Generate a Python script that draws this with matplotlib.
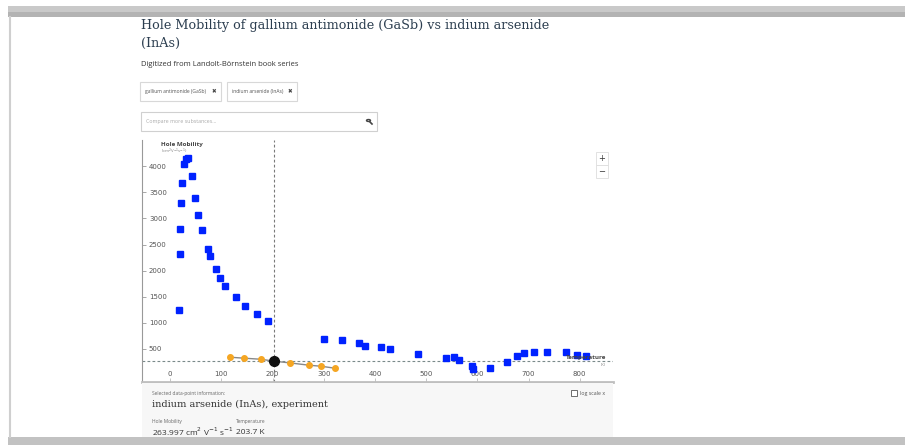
import matplotlib
matplotlib.use("Agg")
import matplotlib.pyplot as plt
from matplotlib.patches import Rectangle, Circle
from matplotlib.lines import Line2D

# GaSb hole mobility (cm^2 V^-1 s^-1) vs temperature (K)
gasb_temp = [17, 19.5, 20, 22, 24, 28, 30, 35, 42, 49, 55, 62, 74, 77, 89, 98, 108,
             128, 147, 169, 191, 300, 335, 369, 380, 411, 430, 484, 538, 555, 564,
             589, 592, 624, 658, 677, 692, 710, 736, 773, 795, 813]
gasb_mob = [1247, 2326, 2799, 3303, 3686, 4044, 4134, 4165, 3814, 3399, 3067, 2786,
            2410, 2288, 2033, 1854, 1713, 1496, 1330, 1171, 1042, 686, 667, 609, 563,
            544, 494, 404, 328, 347, 289, 180, 123, 136, 257, 366, 418, 437, 448, 437,
            385, 366]

# InAs hole mobility vs temperature
inas_temp = [117, 145, 177, 203.7, 234, 271, 295, 322]
inas_mob = [341, 322, 302, 263.997, 232, 188, 168, 130]

sel_temp = 203.7
sel_mob = 263.997

x_ticks = [0, 100, 200, 300, 400, 500, 600, 700, 800]
y_ticks = [500, 1000, 1500, 2000, 2500, 3000, 3500, 4000]

W, H = 905, 445
fig = plt.figure(figsize=(W / 100, H / 100), dpi=100)
fig.patch.set_facecolor("white")


def fx(x):
    return x / W


def fy(y):
    return 1 - y / H


def frect(x0, y0, x1, y1, **kw):
    fig.patches.append(Rectangle((fx(x0), fy(y1)), fx(x1) - fx(x0), fy(y0) - fy(y1),
                                 transform=fig.transFigure, **kw))


# page frame
frect(8, 6, 905, 12, facecolor="#c9c9c9", edgecolor="none")
frect(8, 12, 905, 17, facecolor="#b3b3b3", edgecolor="none")
frect(8, 437, 905, 445, facecolor="#c2c2c2", edgecolor="none")
fig.lines.append(Line2D([fx(9.5), fx(9.5)], [fy(17), fy(437)], transform=fig.transFigure,
                        color="#cfcfcf", lw=1.5))

# header
serif = ["DejaVu Serif"]
sans = ["Open Sans", "DejaVu Sans"]
fig.text(fx(141), fy(26), "Hole Mobility of gallium antimonide (GaSb) vs indium arsenide",
         family=serif, fontsize=9.2, color="#2c3e50", va="center")
fig.text(fx(141), fy(43), "(InAs)", family=serif, fontsize=9.2, color="#2c3e50", va="center")
fig.text(fx(141), fy(64), "Digitized from Landolt-Börnstein book series",
         family=sans, fontsize=5.5, color="#333333", va="center")

# substance tags
for x0, x1, label in [(140, 221, "gallium antimonide (GaSb)"), (227, 297, "indium arsenide (InAs)")]:
    frect(x0, 82, x1, 101, facecolor="white", edgecolor="#d8d8d8", lw=0.8)
    fig.text(fx(x0 + 5), fy(92), label, family=sans, fontsize=3.6, color="#555555", va="center")
    fig.text(fx(x1 - 9), fy(92), "✖", family=["DejaVu Sans"], fontsize=4, color="#444444",
             va="center")

# search box
frect(141, 112, 377, 131, facecolor="white", edgecolor="#d0d0d0", lw=0.8)
fig.text(fx(146), fy(121.5), "Compare more substances...", family=sans, fontsize=3.8,
         color="#aaaaaa", va="center")
fig.patches.append(Circle((fx(368.5), fy(120.5)), 2.0 / W, transform=fig.transFigure,
                          facecolor="none", edgecolor="#444444", lw=1))
fig.lines.append(Line2D([fx(370), fx(372)], [fy(122), fy(124)], transform=fig.transFigure,
                        color="#444444", lw=1.2))

# info panel
frect(142, 383, 613, 437, facecolor="#f7f7f7", edgecolor="none")
fig.text(fx(152), fy(393), "Selected data-point information:", family=sans, fontsize=3.5,
         color="#666666", va="center")
fig.text(fx(152), fy(404), "indium arsenide (InAs), experiment", family=serif, fontsize=7,
         color="#333333", va="center")
fig.text(fx(152), fy(421), "Hole Mobility", family=sans, fontsize=3.5, color="#666666", va="center")
fig.text(fx(236), fy(421), "Temperature", family=sans, fontsize=3.5, color="#666666", va="center")
fig.text(fx(152), fy(432), r"263.997 cm$^{2}$ V$^{-1}$ s$^{-1}$", family=sans, fontsize=6,
         color="#333333", va="center")
fig.text(fx(236), fy(432), "203.7 K", family=sans, fontsize=6, color="#333333", va="center")
frect(571, 390, 577, 396, facecolor="white", edgecolor="#555555", lw=0.6)
fig.text(fx(580), fy(393.5), "log scale x", family=sans, fontsize=3.8, color="#555555", va="center")

# chart
ax = fig.add_axes([fx(142), fy(382), fx(613) - fx(142), fy(140) - fy(382)])
ax.set_facecolor("white")
ax.set_xlim(-55, 865)
ax.set_ylim(-134, 4504)

ax.axhline(sel_mob, color="#7a8a8a", lw=0.8, ls=(0, (2.5, 2)), zorder=1)
ax.axvline(sel_temp, color="#7a7a7a", lw=0.8, ls=(0, (2.5, 2)), zorder=1)

ax.plot(gasb_temp, gasb_mob, ls="none", marker="s", ms=4.2, color="#0022ff",
        markeredgecolor="#0022ff", zorder=3)
ax.plot(inas_temp, inas_mob, color="#888888", lw=1, zorder=2)
ax.plot(inas_temp, inas_mob, ls="none", marker="o", ms=4, color="#f5a623",
        markeredgecolor="#f5a623", zorder=3)
ax.plot([sel_temp], [sel_mob], ls="none", marker="o", ms=7, color="#111111", zorder=4)

ax.set_xticks(x_ticks)
ax.set_yticks(y_ticks)
ax.tick_params(axis="y", direction="in", length=3, width=0.6, color="#999999", pad=-5,
               labelsize=5, labelcolor="#555555")
for lbl in ax.get_yticklabels():
    lbl.set_horizontalalignment("left")
ax.tick_params(axis="x", direction="in", length=3, width=0.6, color="#bbbbbb", pad=-8,
               labelsize=5, labelcolor="#555555")

for s in ["top", "right"]:
    ax.spines[s].set_visible(False)
ax.spines["left"].set_color("#999999")
ax.spines["left"].set_linewidth(0.8)
ax.spines["bottom"].set_color("#bfbfbf")
ax.spines["bottom"].set_linewidth(2)

ax.text(0.04, 0.983, "Hole Mobility", transform=ax.transAxes, fontsize=4.5, fontweight="bold",
        color="#444444", family=sans, va="center")
ax.text(0.04, 0.953, r"(cm$^{2}$V$^{-1}$s$^{-1}$)", transform=ax.transAxes, fontsize=3.2,
        color="#888888", family=sans, va="center")
ax.text(0.985, 0.100, "Temperature", transform=ax.transAxes, fontsize=4.5, fontweight="bold",
        color="#444444", family=sans, va="center", ha="right")
ax.text(0.985, 0.072, "(K)", transform=ax.transAxes, fontsize=3.2, color="#888888",
        family=sans, va="center", ha="right")

# zoom buttons
frect(596, 152, 608, 165, facecolor="white", edgecolor="#dddddd", lw=0.6)
frect(596, 165, 608, 178, facecolor="white", edgecolor="#dddddd", lw=0.6)
fig.text(fx(602), fy(158.5), "+", fontsize=6, color="#333333", ha="center", va="center")
fig.text(fx(602), fy(171.5), "−", fontsize=6, color="#333333", ha="center", va="center")

fig.savefig("out.png", dpi=100)
